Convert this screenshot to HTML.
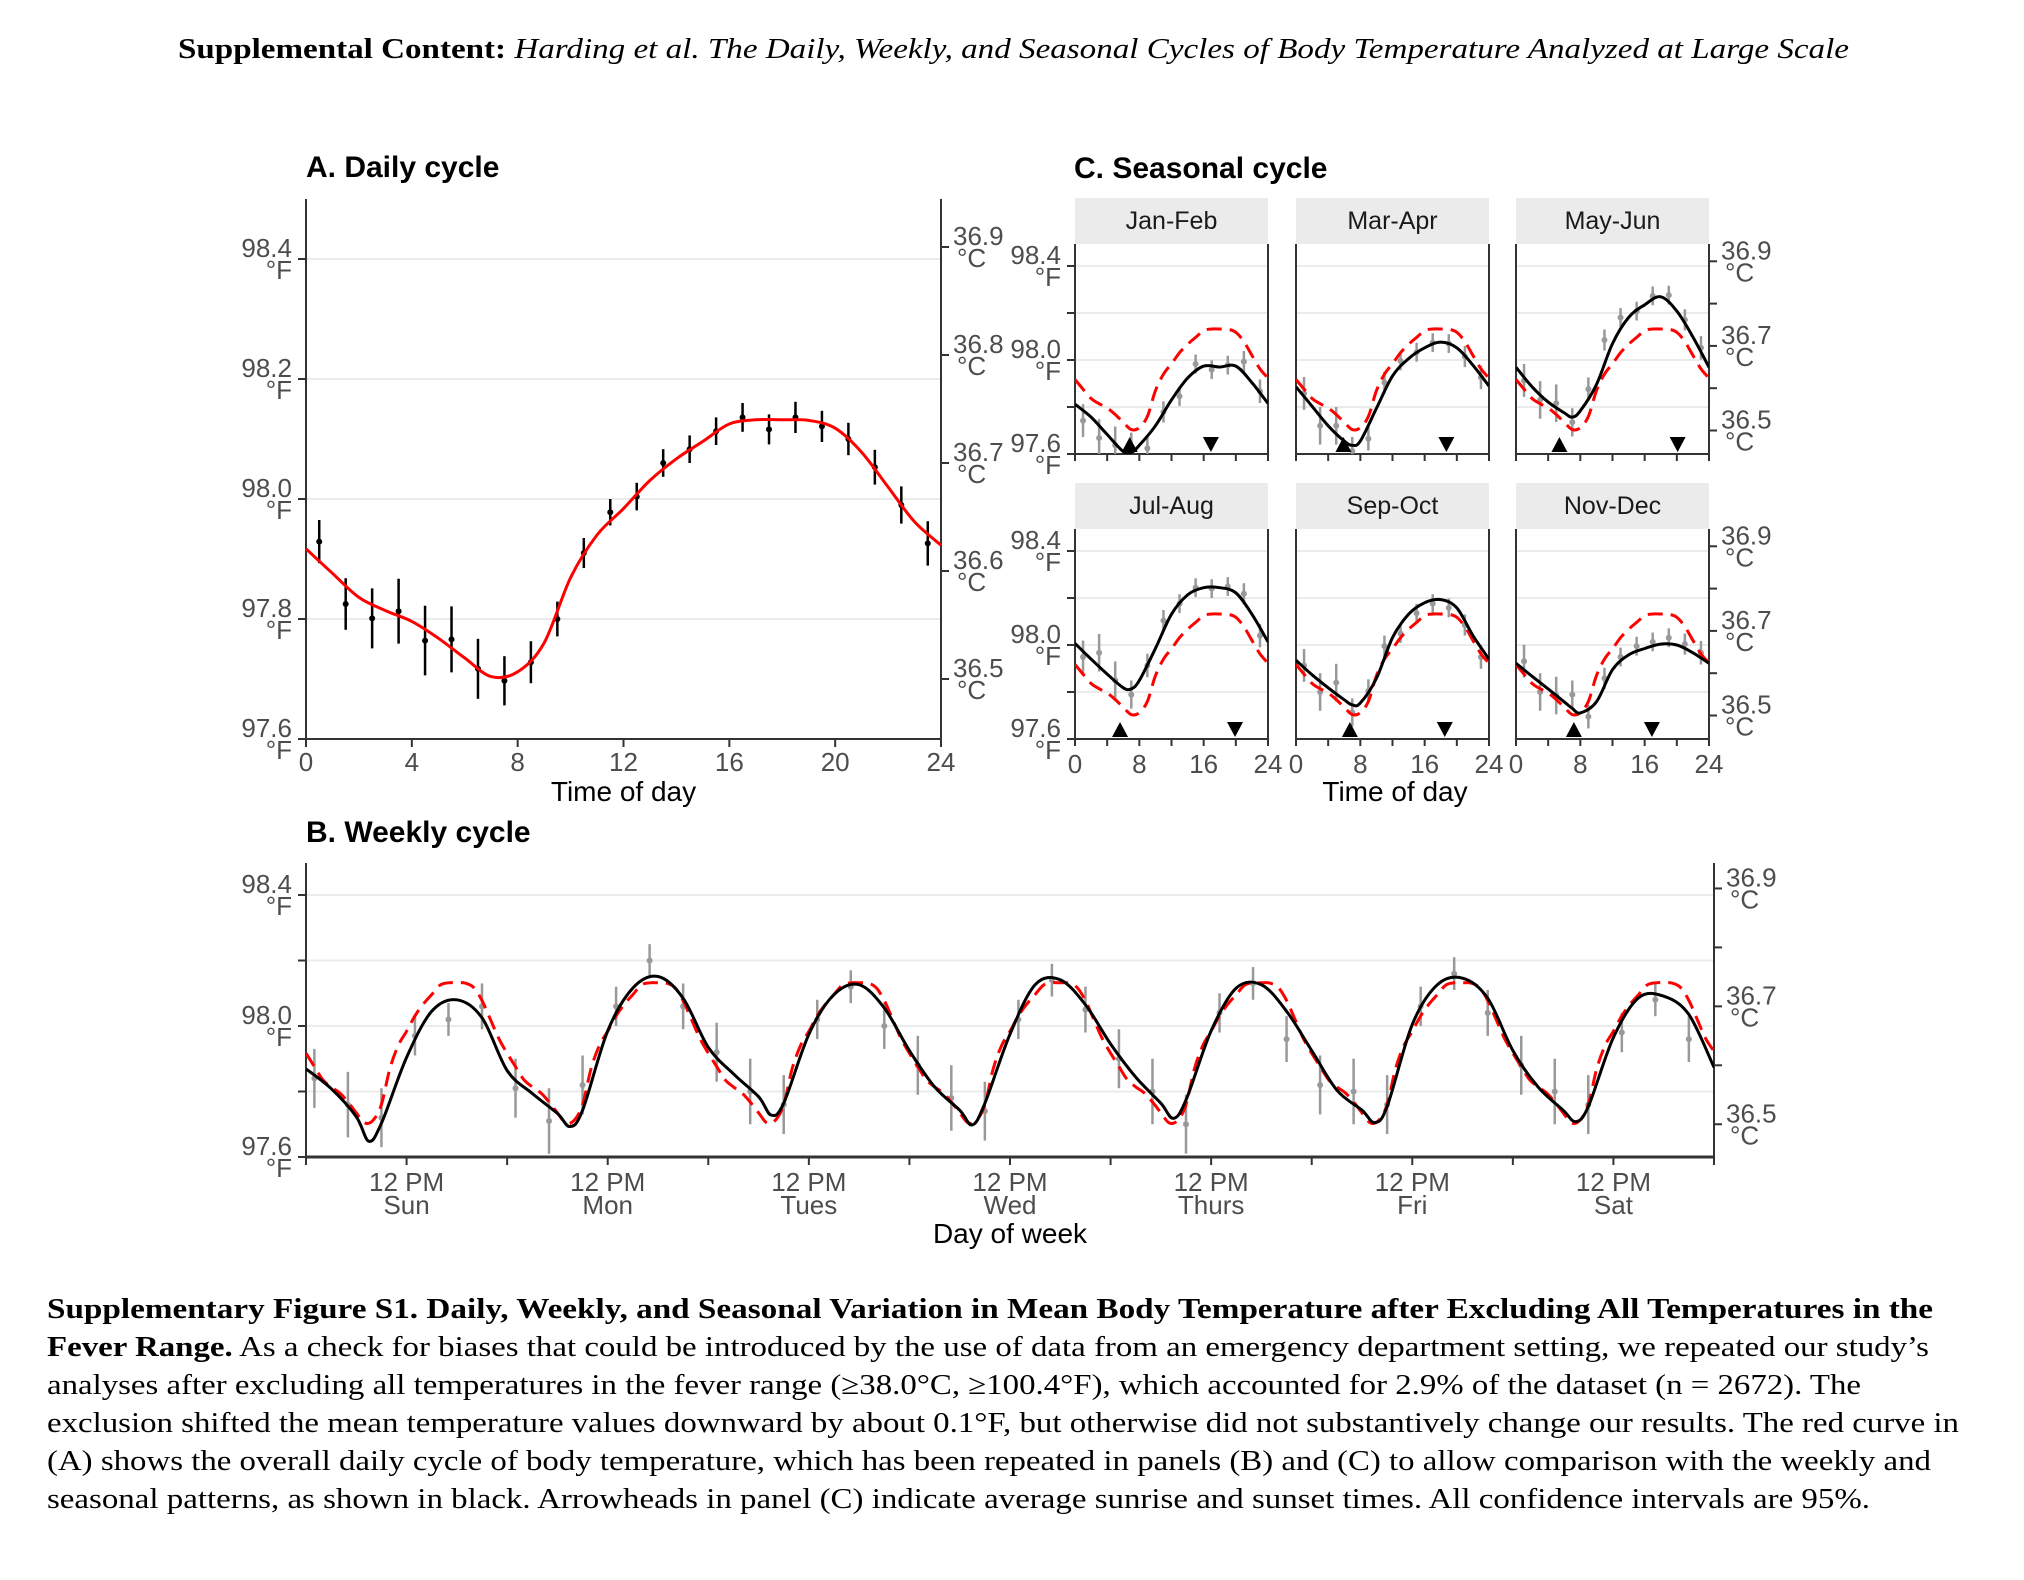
<!DOCTYPE html>
<html><head><meta charset="utf-8">
<style>
html,body{margin:0;padding:0;background:#fff;}
svg{display:block;}
.tk{font-family:"Liberation Sans",sans-serif;font-size:26px;fill:#4d4d4d;}
.ttl{font-family:"Liberation Sans",sans-serif;font-size:30px;font-weight:bold;fill:#000;}
.axt{font-family:"Liberation Sans",sans-serif;font-size:28px;fill:#000;}
.strip{font-family:"Liberation Sans",sans-serif;font-size:25px;fill:#1a1a1a;}
.ser{font-family:"Liberation Serif",serif;font-size:29px;fill:#000;}
</style></head>
<body>
<svg id="fig" width="2024" height="1580" viewBox="0 0 2024 1580" xmlns="http://www.w3.org/2000/svg">
<text class="ser" x="178" y="58" textLength="1671" lengthAdjust="spacingAndGlyphs"><tspan font-weight="bold">Supplemental Content:</tspan> <tspan font-style="italic">Harding et al. The Daily, Weekly, and Seasonal Cycles of Body Temperature Analyzed at Large Scale</tspan></text>
<text class="ttl" x="306" y="177">A. Daily cycle</text>
<text class="ttl" x="1074" y="178">C. Seasonal cycle</text>
<text class="ttl" x="306" y="842">B. Weekly cycle</text>
<g id="gA"></g>
<g id="gC"></g>
<g id="gB"></g>
<g>
<text class="ser" x="47" y="1318" textLength="1886" lengthAdjust="spacingAndGlyphs" font-weight="bold">Supplementary Figure S1. Daily, Weekly, and Seasonal Variation in Mean Body Temperature after Excluding All Temperatures in the</text>
<text class="ser" x="47" y="1356" textLength="1882" lengthAdjust="spacingAndGlyphs"><tspan font-weight="bold">Fever Range.</tspan> As a check for biases that could be introduced by the use of data from an emergency department setting, we repeated our study’s</text>
<text class="ser" x="47" y="1394" textLength="1814" lengthAdjust="spacingAndGlyphs">analyses after excluding all temperatures in the fever range (≥38.0°C, ≥100.4°F), which accounted for 2.9% of the dataset (n = 2672). The</text>
<text class="ser" x="47" y="1432" textLength="1912" lengthAdjust="spacingAndGlyphs">exclusion shifted the mean temperature values downward by about 0.1°F, but otherwise did not substantively change our results. The red curve in</text>
<text class="ser" x="47" y="1470" textLength="1884" lengthAdjust="spacingAndGlyphs">(A) shows the overall daily cycle of body temperature, which has been repeated in panels (B) and (C) to allow comparison with the weekly and</text>
<text class="ser" x="47" y="1508" textLength="1823" lengthAdjust="spacingAndGlyphs">seasonal patterns, as shown in black. Arrowheads in panel (C) indicate average sunrise and sunset times. All confidence intervals are 95%.</text>
</g>
</svg>
<script>
// ---------- DATA ----------
const dailyHours = [0,1,2,3,4,5,6,7,8,9,10,11,12,13,14,15,16,17,18,19,20,21,22,23,24];
const dailyCurve = [97.917,97.876,97.836,97.814,97.796,97.768,97.735,97.704,97.712,97.76,97.869,97.94,97.984,98.031,98.067,98.096,98.125,98.132,98.132,98.131,98.118,98.078,98.02,97.962,97.923];
const dailyPtHours = [0.5,1.5,2.5,3.5,4.5,5.5,6.5,7.5,8.5,9.5,10.5,11.5,12.5,13.5,14.5,15.5,16.5,17.5,18.5,19.5,20.5,21.5,22.5,23.5];
const dailyPtMean = [97.929,97.825,97.801,97.813,97.764,97.766,97.717,97.697,97.728,97.80,97.91,97.978,98.004,98.06,98.083,98.113,98.136,98.116,98.136,98.121,98.10,98.053,97.99,97.926];
const dailyPtErr = [0.036,0.043,0.05,0.054,0.058,0.055,0.05,0.041,0.035,0.029,0.025,0.022,0.023,0.023,0.023,0.023,0.024,0.025,0.026,0.026,0.027,0.029,0.031,0.037];

const seasonNames = ["Jan-Feb","Mar-Apr","May-Jun","Jul-Aug","Sep-Oct","Nov-Dec"];
const seasonHours = [0,2,4,6,7,8,10,12,14,16,18,20,22,24];
const seasonJanFeb = [97.812,97.757,97.683,97.61,97.606,97.637,97.72,97.83,97.923,97.974,97.97,97.974,97.904,97.815];
const seasonMarApr = [97.886,97.803,97.72,97.655,97.637,97.655,97.794,97.932,98.006,98.052,98.076,98.052,97.978,97.889];
const seasonMayJun = [97.969,97.886,97.821,97.775,97.757,97.784,97.895,98.07,98.181,98.235,98.269,98.208,98.098,97.969];
const seasonJulAug = [98.007,97.94,97.876,97.818,97.813,97.849,97.985,98.131,98.213,98.244,98.244,98.222,98.131,98.013];
const seasonSepOct = [97.935,97.873,97.818,97.767,97.745,97.753,97.858,98.031,98.131,98.18,98.193,98.158,98.04,97.94];
const seasonNovDec = [97.922,97.867,97.813,97.758,97.73,97.711,97.758,97.895,97.958,97.985,98.004,98.0,97.967,97.922];
const seasonPtHours = [1,3,5,7,9,11,13,15,17,19,21,23];
const ptJanFeb = [97.742,97.668,97.637,97.631,97.624,97.779,97.845,97.983,97.959,97.978,97.993,97.867];
const ptMarApr = [97.858,97.72,97.72,97.613,97.665,97.904,97.996,98.033,98.074,98.07,98.015,97.926];
const ptMayJun = [97.913,97.83,97.816,97.735,97.876,98.085,98.181,98.208,98.273,98.276,98.171,98.052];
const ptJulAug = [97.949,97.967,97.85,97.789,97.913,98.104,98.176,98.244,98.24,98.249,98.218,98.04];
const ptSepOct = [97.913,97.80,97.84,97.713,97.804,97.995,98.049,98.135,98.176,98.158,98.085,97.949];
const ptNovDec = [97.931,97.80,97.785,97.789,97.695,97.858,97.949,97.995,98.013,98.031,98.004,97.967];
const seasonPtErr = [0.07,0.08,0.08,0.06,0.05,0.045,0.04,0.04,0.04,0.04,0.045,0.05];
const sunrise = [6.8,5.9,5.4,5.6,6.7,7.2];
const sunset = [16.9,18.7,20.1,19.9,18.5,16.9];

const weekDays = ["Sun","Mon","Tues","Wed","Thurs","Fri","Sat"];
const weekDayHours = [0,3,6,7.5,9,12,15,18,21];
const weekSun = [97.869,97.809,97.723,97.648,97.703,97.904,98.045,98.08,98.025];
const weekMon = [97.864,97.794,97.733,97.693,97.743,97.985,98.116,98.151,98.085];
const weekTue = [97.935,97.854,97.784,97.728,97.764,97.975,98.096,98.126,98.055];
const weekWed = [97.925,97.814,97.743,97.698,97.764,97.975,98.126,98.141,98.065];
const weekThu = [97.945,97.844,97.764,97.718,97.774,97.985,98.116,98.126,98.045];
const weekFri = [97.925,97.804,97.743,97.705,97.754,98.005,98.126,98.146,98.085];
const weekSat = [97.925,97.814,97.743,97.708,97.754,97.965,98.086,98.091,98.035];
const weekEnd = 97.874;
const weekPtHours = [1,5,9,13,17,21];
const weekPtSun = [97.84,97.76,97.72,97.97,98.02,98.06];
const weekPtMon = [97.81,97.71,97.82,98.06,98.20,98.06];
const weekPtTue = [97.92,97.80,97.76,98.02,98.12,98.00];
const weekPtWed = [97.88,97.78,97.74,98.02,98.14,98.05];
const weekPtThu = [97.90,97.80,97.70,98.04,98.13,97.96];
const weekPtFri = [97.82,97.80,97.76,98.06,98.16,98.04];
const weekPtSat = [97.88,97.80,97.76,97.98,98.08,97.96];
const weekPtErr = [0.09,0.1,0.09,0.06,0.05,0.07];

const fTicks = [98.4,98.2,98.0,97.8,97.6];
const cTicks = [36.9,36.8,36.7,36.6,36.5];

// ---------- HELPERS ----------
const NS = "http://www.w3.org/2000/svg";
function mk(parent, tag, attrs){ const e=document.createElementNS(NS,tag); for(const k in attrs) e.setAttribute(k,attrs[k]); parent.appendChild(e); return e; }
function txt(parent, x, y, s, cls, anchor){ const t=mk(parent,"text",{x:x,y:y,class:cls,"text-anchor":anchor||"start"}); t.textContent=s; return t; }
function spline(p){
  let d="M"+p[0][0].toFixed(1)+","+p[0][1].toFixed(1);
  for(let i=0;i<p.length-1;i++){
    const p0=p[i-1]||p[i], p1=p[i], p2=p[i+1], p3=p[i+2]||p[i+1];
    const c1=[p1[0]+(p2[0]-p0[0])/6, p1[1]+(p2[1]-p0[1])/6];
    const c2=[p2[0]-(p3[0]-p1[0])/6, p2[1]-(p3[1]-p1[1])/6];
    d+="C"+c1[0].toFixed(1)+","+c1[1].toFixed(1)+" "+c2[0].toFixed(1)+","+c2[1].toFixed(1)+" "+p2[0].toFixed(1)+","+p2[1].toFixed(1);
  }
  return d;
}
const cToF = c => c*1.8+32;

function axes(g, o){
  for(const f of o.grid){
    const gl=mk(g,"line",{x1:o.x0,x2:o.x1,y1:o.fy(f),y2:o.fy(f),stroke:"#ebebeb","stroke-width":2});
    
    
  }
  mk(g,"line",{x1:o.x0,x2:o.x0,y1:o.y0,y2:o.y1,stroke:"#333","stroke-width":2});
  mk(g,"line",{x1:o.x0,x2:o.x1,y1:o.y1,y2:o.y1,stroke:"#333","stroke-width":o.bw||2});
  if(o.rightLine) mk(g,"line",{x1:o.x1,x2:o.x1,y1:o.y0,y2:o.y1,stroke:"#333","stroke-width":2});
  if(o.leftTicks){
    for(const f of fTicks){
      const y=o.fy(f);
      mk(g,"line",{x1:o.x0-8,x2:o.x0,y1:y,y2:y,stroke:"#333","stroke-width":2});
      if(o.leftLabels.includes(f)){
        const t1=txt(g,o.x0-14,y-2,f.toFixed(1),"tk","end");
        
        
        txt(g,o.x0-14,y+20,"°F","tk","end");
      }
    }
  }
  if(o.rightTicks){
    for(const c of cTicks){
      const y=o.fy(cToF(c));
      mk(g,"line",{x1:o.x1,x2:o.x1+8,y1:y,y2:y,stroke:"#333","stroke-width":2});
      if(o.rightLabels.includes(c)){
        const t2=txt(g,o.x1+12,y-2,c.toFixed(1),"tk","start");
        
        
        txt(g,o.x1+16,y+20,"°C","tk","start");
      }
    }
  }
}
function errPts(g, xs, ms, es, sx, fy, color, r, w){
  for(let i=0;i<xs.length;i++){
    const x=sx(xs[i]);
    const eb=mk(g,"line",{x1:x,x2:x,y1:fy(ms[i]-es[i]),y2:fy(ms[i]+es[i]),stroke:color,"stroke-width":w});
    
    
    const pt=mk(g,"circle",{cx:x,cy:fy(ms[i]),r:r,fill:color});
    
    
  }
}

// ---------- PANEL A ----------
(function(){
  const g=document.getElementById("gA");
  const x0=306,x1=941,y0=199,y1=739, pxF=600;
  const sx=h=>x0+h/24*(x1-x0), fy=f=>y1-(f-97.6)*pxF;
  axes(g,{x0,x1,y0,y1,fy,grid:[98.4,98.2,98.0,97.8],leftTicks:true,leftLabels:fTicks,rightTicks:true,rightLabels:cTicks,rightLine:true});
  for(const h of [0,4,8,12,16,20,24]){
    mk(g,"line",{x1:sx(h),x2:sx(h),y1:y1,y2:y1+8,stroke:"#333","stroke-width":2});
    const t=txt(g,sx(h),771,String(h),"tk","middle");
    
    
  }
  const xt=txt(g,(x0+x1)/2,801,"Time of day","axt","middle");
  
  
  errPts(g,dailyPtHours,dailyPtMean,dailyPtErr,sx,fy,"#000",3,2.5);
  const p=mk(g,"path",{d:spline(dailyHours.map((h,i)=>[sx(h),fy(dailyCurve[i])])),fill:"none",stroke:"#ff0000","stroke-width":3});
  
  
})();

// ---------- PANEL C ----------
(function(){
  const g=document.getElementById("gC");
  const curves=[seasonJanFeb,seasonMarApr,seasonMayJun,seasonJulAug,seasonSepOct,seasonNovDec];
  const pts=[ptJanFeb,ptMarApr,ptMayJun,ptJulAug,ptSepOct,ptNovDec];
  const cols=[[1075,1268],[1296,1489],[1516,1709]];
  const rows=[{st:198,top:244,bot:454},{st:483,top:529,bot:739}];
  const pxF=235;
  for(let k=0;k<6;k++){
    const [x0,x1]=cols[k%3], r=rows[Math.floor(k/3)];
    const sg=mk(g,"g",{});
    
    
    const sx=h=>x0+h/24*(x1-x0), fy=f=>r.bot-(f-97.6)*pxF;
    const strip=mk(sg,"rect",{x:x0,y:r.st,width:x1-x0,height:r.top-r.st,fill:"#ebebeb"});
    
    
    txt(sg,(x0+x1)/2,r.st+31,seasonNames[k],"strip","middle");
    const col=k%3;
    axes(sg,{x0,x1,y0:r.top,y1:r.bot,fy,grid:[98.4,98.2,98.0,97.8],leftTicks:col===0,leftLabels:[98.4,98.0,97.6],rightTicks:col===2,rightLabels:[36.9,36.7,36.5],rightLine:true});
    for(const h of [0,4,8,12,16,20,24]) mk(sg,"line",{x1:sx(h),x2:sx(h),y1:r.bot,y2:r.bot+7,stroke:"#333","stroke-width":2});
    if(k>=3){
      for(const h of [0,8,16,24]){
        const t=txt(sg,sx(h),773,String(h),"tk","middle");
        
        
      }
    }
    const cp=mk(sg,"clipPath",{id:"cl"+k}); mk(cp,"rect",{x:x0,y:r.top,width:x1-x0,height:r.bot-r.top});
    const pg=mk(sg,"g",{"clip-path":"url(#cl"+k+")"});
    errPts(pg,seasonPtHours,pts[k],seasonPtErr,sx,fy,"#999",3,2.5);
    const red=mk(pg,"path",{d:spline(dailyHours.map((h,i)=>[sx(h),fy(dailyCurve[i])])),fill:"none",stroke:"#ff0000","stroke-width":3,"stroke-dasharray":"15,8"});
    
    
    const bl=mk(pg,"path",{d:spline(seasonHours.map((h,i)=>[sx(h),fy(curves[k][i])])),fill:"none",stroke:"#000","stroke-width":3});
    
    
    const ux=sx(sunrise[k]), dx=sx(sunset[k]), b=r.bot-2;
    const up=mk(sg,"path",{d:`M${ux-8},${b} L${ux+8},${b} L${ux},${b-15} Z`,fill:"#000"});
    
    
    const dn=mk(sg,"path",{d:`M${dx-8},${b-15} L${dx+8},${b-15} L${dx},${b} Z`,fill:"#000"});
    
    
  }
  const xt=txt(g,1395,801,"Time of day","axt","middle");
  
  
})();

// ---------- PANEL B ----------
(function(){
  const g=document.getElementById("gB");
  const x0=306,x1=1714,y0=863,y1=1157,pxF=327.5;
  const sx=h=>x0+h/168*(x1-x0), fy=f=>y1-(f-97.6)*pxF;
  axes(g,{x0,x1,y0,y1,fy,grid:[98.4,98.2,98.0,97.8],leftTicks:true,leftLabels:[98.4,98.0,97.6],rightTicks:true,rightLabels:[36.9,36.7,36.5],rightLine:true,bw:3});
  for(let h=0;h<=168;h+=12) mk(g,"line",{x1:sx(h),x2:sx(h),y1:y1,y2:y1+8,stroke:"#333","stroke-width":2});
  weekDays.forEach((d,i)=>{
    const x=sx(i*24+12);
    const t=txt(g,x,1191,"12 PM","tk","middle");
    
    
    txt(g,x,1214,d,"tk","middle");
  });
  const xt=txt(g,(x0+x1)/2,1243,"Day of week","axt","middle");
  
  
  const cp=mk(g,"clipPath",{id:"clB"}); mk(cp,"rect",{x:x0,y:y0,width:x1-x0,height:y1-y0});
  const pg=mk(g,"g",{"clip-path":"url(#clB)"});
  const ptSets=[weekPtSun,weekPtMon,weekPtTue,weekPtWed,weekPtThu,weekPtFri,weekPtSat];
  ptSets.forEach((s,d)=>errPts(pg,weekPtHours.map(h=>h+d*24),s,weekPtErr,sx,fy,"#999",3,2.5));
  const redPts=[];
  for(let d=0;d<7;d++) dailyHours.forEach((h,i)=>{ if(h<24||d===6) redPts.push([sx(d*24+h),fy(dailyCurve[i])]); });
  const red=mk(pg,"path",{d:spline(redPts),fill:"none",stroke:"#ff0000","stroke-width":3,"stroke-dasharray":"15,8"});
  
  
  const sets=[weekSun,weekMon,weekTue,weekWed,weekThu,weekFri,weekSat];
  const bp=[];
  sets.forEach((s,d)=>weekDayHours.forEach((h,i)=>bp.push([sx(d*24+h),fy(s[i])])));
  bp.push([sx(168),fy(weekEnd)]);
  const bl=mk(pg,"path",{d:spline(bp),fill:"none",stroke:"#000","stroke-width":3});
  
  
})();
</script>
</body></html>
